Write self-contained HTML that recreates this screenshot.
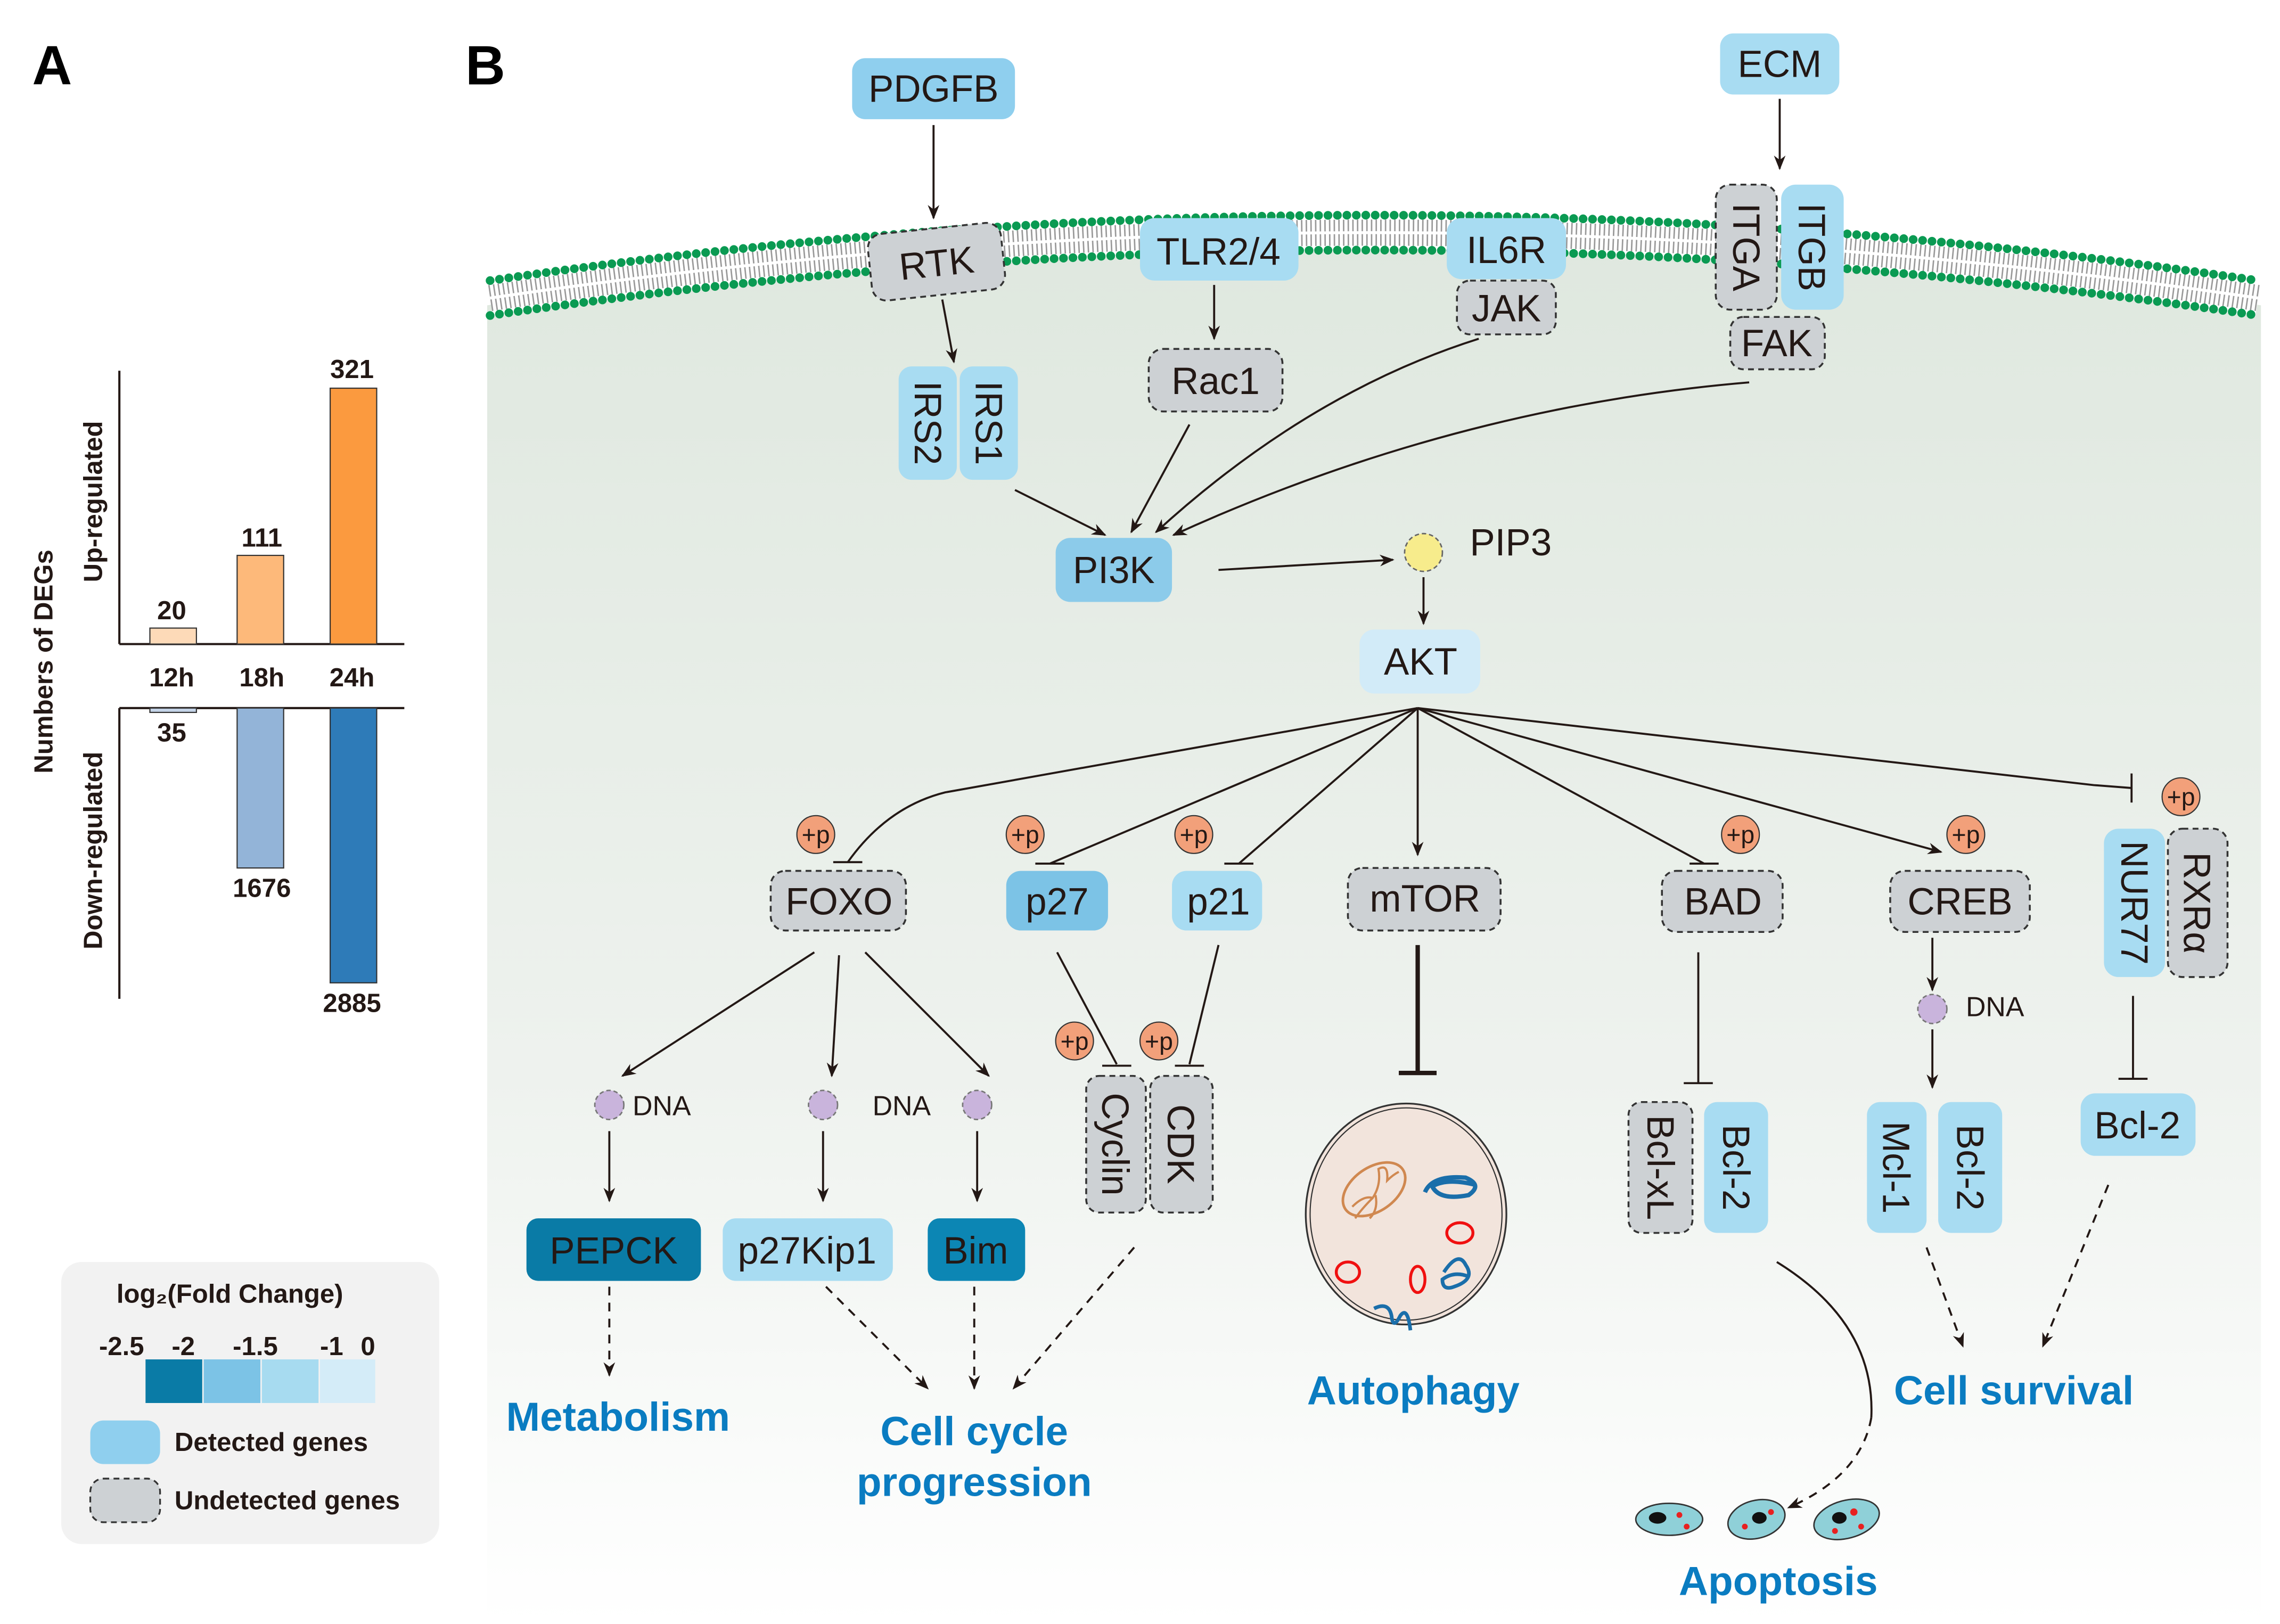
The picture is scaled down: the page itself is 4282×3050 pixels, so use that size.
<!DOCTYPE html>
<html><head><meta charset="utf-8"><style>
html,body{margin:0;padding:0;background:#fff}
svg{display:block}
text{font-family:"Liberation Sans",Arial,sans-serif}
</style></head><body>
<svg width="4282" height="3050" viewBox="0 0 1568 1117" xmlns="http://www.w3.org/2000/svg">
<defs>
<linearGradient id="cell" x1="0" y1="0" x2="0" y2="1">
<stop offset="0" stop-color="#dfe8df"/><stop offset="0.6" stop-color="#eef2ee"/><stop offset="1" stop-color="#ffffff"/>
</linearGradient>
<marker id="ar" markerWidth="10" markerHeight="10" refX="9" refY="5" orient="auto" markerUnits="userSpaceOnUse"><path d="M0,1 L10,5 L0,9 L3,5 Z" fill="#231815"/></marker>
</defs>
<path d="M335,210 Q945,120 1555,210 L1555,1117 L335,1117 Z" fill="url(#cell)"/>
<path d="M337,205 Q945,115 1553,205" fill="none" stroke="#fff" stroke-width="26"/>
<path d="M337,205 Q945,115 1553,205" fill="none" stroke="#999" stroke-width="18" stroke-dasharray="1 2.2"/>
<path d="M337,205 Q945,115 1553,205" fill="none" stroke="#fff" stroke-width="2"/>
<path d="M337,193 Q945,103 1553,193" fill="none" stroke="#0a9a52" stroke-width="6" stroke-linecap="round" stroke-dasharray="0 6.5"/>
<path d="M337,217 Q945,127 1553,217" fill="none" stroke="#0a9a52" stroke-width="6" stroke-linecap="round" stroke-dasharray="0 6.5"/>

<g fill="none" stroke="#231815" stroke-width="1.4">
<line x1="642" y1="86" x2="642" y2="150" marker-end="url(#ar)"/>
<line x1="1224" y1="68" x2="1224" y2="116" marker-end="url(#ar)"/>
<line x1="648" y1="206" x2="656" y2="249" marker-end="url(#ar)"/>
<line x1="835" y1="196" x2="835" y2="233" marker-end="url(#ar)"/>
<line x1="818" y1="292" x2="778" y2="366" marker-end="url(#ar)"/>
<path d="M1017,233 Q900,270 795,366" marker-end="url(#ar)"/>
<path d="M1203,263 Q1000,280 807,368" marker-end="url(#ar)"/>
<line x1="698" y1="337" x2="760" y2="368" marker-end="url(#ar)"/>
<line x1="838" y1="392" x2="958" y2="385" marker-end="url(#ar)"/>
<line x1="979" y1="397" x2="979" y2="429" marker-end="url(#ar)"/>
<path d="M975,487 L650,545 Q610,555 583,593"/><line x1="573" y1="593" x2="593" y2="593"/>
<line x1="975" y1="487" x2="722" y2="594"/><line x1="712" y1="594" x2="732" y2="594"/>
<line x1="975" y1="487" x2="852" y2="594"/><line x1="842" y1="594" x2="862" y2="594"/>
<line x1="975" y1="487" x2="975" y2="588" marker-end="url(#ar)"/>
<line x1="975" y1="487" x2="1172" y2="594"/><line x1="1162" y1="594" x2="1182" y2="594"/>
<line x1="975" y1="487" x2="1335" y2="586" marker-end="url(#ar)"/>
<path d="M975,487 L1440,540 L1466,542"/><line x1="1466" y1="532" x2="1466" y2="552"/>
<line x1="560" y1="655" x2="428" y2="740" marker-end="url(#ar)"/>
<line x1="577" y1="657" x2="572" y2="740" marker-end="url(#ar)"/>
<line x1="595" y1="655" x2="680" y2="740" marker-end="url(#ar)"/>
<line x1="419" y1="778" x2="419" y2="826" marker-end="url(#ar)"/>
<line x1="566" y1="778" x2="566" y2="826" marker-end="url(#ar)"/>
<line x1="672" y1="778" x2="672" y2="826" marker-end="url(#ar)"/>
<line x1="727" y1="655" x2="768" y2="732"/><line x1="758" y1="733" x2="778" y2="733"/>
<line x1="838" y1="650" x2="818" y2="732"/><line x1="808" y1="733" x2="828" y2="733"/>
<line x1="1168" y1="655" x2="1168" y2="745"/><line x1="1158" y1="745" x2="1178" y2="745"/>
<line x1="1329" y1="645" x2="1329" y2="681" marker-end="url(#ar)"/>
<line x1="1329" y1="708" x2="1329" y2="748" marker-end="url(#ar)"/>
<line x1="1467" y1="685" x2="1467" y2="742"/><line x1="1457" y1="742" x2="1477" y2="742"/>
<path d="M1222,868 Q1290,910 1287,975"/>
</g>
<g fill="none" stroke="#231815" stroke-width="1.4" stroke-dasharray="6 5">
<line x1="419" y1="885" x2="419" y2="946" marker-end="url(#ar)"/>
<line x1="568" y1="885" x2="638" y2="955" marker-end="url(#ar)"/>
<line x1="670" y1="885" x2="670" y2="955" marker-end="url(#ar)"/>
<line x1="780" y1="858" x2="697" y2="955" marker-end="url(#ar)"/>
<path d="M1287,975 Q1280,1015 1230,1037" marker-end="url(#ar)"/>
<line x1="1325" y1="858" x2="1350" y2="926" marker-end="url(#ar)"/>
<line x1="1450" y1="815" x2="1405" y2="926" marker-end="url(#ar)"/>
</g>
<line x1="975" y1="650" x2="975" y2="738" stroke="#231815" stroke-width="3"/>
<line x1="962" y1="738" x2="988" y2="738" stroke="#231815" stroke-width="3"/>

<g font-size="26" fill="#231815" text-anchor="middle">
<rect x="586" y="40" width="112" height="42" rx="9" fill="#8fcfee"/><text x="642" y="70">PDGFB</text>
<rect x="1183" y="23" width="82" height="42" rx="9" fill="#a8dcf2"/><text x="1224" y="53">ECM</text>
<g transform="rotate(-6 644 180)"><rect x="598" y="157" width="92" height="46" rx="10" fill="#cdd1d4" stroke="#333" stroke-dasharray="4 3" stroke-width="1.3"/><text x="644" y="190">RTK</text></g>
<rect x="784" y="150" width="109" height="43" rx="10" fill="#a8dcf2"/><text x="838" y="182">TLR2/4</text>
<rect x="995" y="150" width="82" height="42" rx="10" fill="#a8dcf2"/><text x="1036" y="181">IL6R</text>
<rect x="1002" y="193" width="68" height="37" rx="9" fill="#cdd1d4" stroke="#333" stroke-dasharray="4 3" stroke-width="1.3"/><text x="1036" y="221">JAK</text>
<rect x="1180" y="127" width="42" height="86" rx="10" fill="#cdd1d4" stroke="#333" stroke-dasharray="4 3" stroke-width="1.3"/><text transform="translate(1201 170) rotate(90)" y="9">ITGA</text>
<rect x="1225" y="127" width="43" height="86" rx="10" fill="#a8dcf2"/><text transform="translate(1246 170) rotate(90)" y="9">ITGB</text>
<rect x="1190" y="218" width="65" height="36" rx="9" fill="#cdd1d4" stroke="#333" stroke-dasharray="4 3" stroke-width="1.3"/><text x="1222" y="245">FAK</text>
<rect x="790" y="240" width="92" height="43" rx="10" fill="#cdd1d4" stroke="#333" stroke-dasharray="4 3" stroke-width="1.3"/><text x="836" y="271">Rac1</text>
<rect x="618" y="252" width="40" height="78" rx="9" fill="#a8dcf2"/><text transform="translate(638 291) rotate(90)" y="9">IRS2</text>
<rect x="660" y="252" width="40" height="78" rx="9" fill="#a8dcf2"/><text transform="translate(680 291) rotate(90)" y="9">IRS1</text>
<rect x="726" y="370" width="80" height="44" rx="10" fill="#8ccbea"/><text x="766" y="401">PI3K</text>
<circle cx="979" cy="380" r="13" fill="#f7ec8c" stroke="#666" stroke-dasharray="3 2"/>
<text x="1039" y="382" text-anchor="middle">PIP3</text>
<rect x="935" y="433" width="83" height="44" rx="10" fill="#d2ebf8"/><text x="977" y="464">AKT</text>
<rect x="530" y="599" width="93" height="41" rx="10" fill="#cdd1d4" stroke="#333" stroke-dasharray="4 3" stroke-width="1.3"/><text x="577" y="629">FOXO</text>
<rect x="692" y="599" width="70" height="41" rx="10" fill="#7cc3e6"/><text x="727" y="629">p27</text>
<rect x="806" y="599" width="62" height="41" rx="10" fill="#a8dcf2"/><text x="838" y="629">p21</text>
<rect x="927" y="597" width="105" height="43" rx="10" fill="#cdd1d4" stroke="#333" stroke-dasharray="4 3" stroke-width="1.3"/><text x="980" y="627">mTOR</text>
<rect x="1143" y="599" width="83" height="42" rx="10" fill="#cdd1d4" stroke="#333" stroke-dasharray="4 3" stroke-width="1.3"/><text x="1185" y="629">BAD</text>
<rect x="1300" y="599" width="96" height="42" rx="10" fill="#cdd1d4" stroke="#333" stroke-dasharray="4 3" stroke-width="1.3"/><text x="1348" y="629">CREB</text>
<rect x="1447" y="570" width="42" height="102" rx="10" fill="#a8dcf2"/><text transform="translate(1468 621) rotate(90)" y="9">NUR77</text>
<rect x="1491" y="570" width="41" height="102" rx="10" fill="#cdd1d4" stroke="#333" stroke-dasharray="4 3" stroke-width="1.3"/><text transform="translate(1511 621) rotate(90)" y="9">RXRα</text>
<rect x="362" y="838" width="120" height="43" rx="8" fill="#0a7ba6"/><text x="422" y="869">PEPCK</text>
<rect x="497" y="838" width="117" height="43" rx="9" fill="#a8dcf2"/><text x="555" y="869">p27Kip1</text>
<rect x="638" y="838" width="67" height="43" rx="8" fill="#0c86b4"/><text x="671" y="869">Bim</text>
<rect x="747" y="740" width="41" height="94" rx="9" fill="#cdd1d4" stroke="#333" stroke-dasharray="4 3" stroke-width="1.3"/><text transform="translate(767 787) rotate(90)" y="9">Cyclin</text>
<rect x="791" y="740" width="43" height="94" rx="9" fill="#cdd1d4" stroke="#333" stroke-dasharray="4 3" stroke-width="1.3"/><text transform="translate(812 787) rotate(90)" y="9">CDK</text>
<rect x="1120" y="758" width="44" height="90" rx="9" fill="#cdd1d4" stroke="#333" stroke-dasharray="4 3" stroke-width="1.3"/><text transform="translate(1142 803) rotate(90)" y="9">Bcl-xL</text>
<rect x="1172" y="758" width="44" height="90" rx="9" fill="#a8dcf2"/><text transform="translate(1194 803) rotate(90)" y="9">Bcl-2</text>
<rect x="1284" y="758" width="41" height="90" rx="9" fill="#a8dcf2"/><text transform="translate(1304 803) rotate(90)" y="9">Mcl-1</text>
<rect x="1333" y="758" width="44" height="90" rx="9" fill="#a8dcf2"/><text transform="translate(1355 803) rotate(90)" y="9">Bcl-2</text>
<rect x="1431" y="752" width="79" height="43" rx="10" fill="#a8dcf2"/><text x="1470" y="783">Bcl-2</text>
</g>
<g font-size="17" fill="#231815" text-anchor="middle">
<g fill="#f2a07a" stroke="#333" stroke-width="0.8">
<circle cx="561" cy="574" r="13"/><circle cx="705" cy="574" r="13"/><circle cx="821" cy="574" r="13"/>
<circle cx="1197" cy="574" r="13"/><circle cx="1352" cy="574" r="13"/><circle cx="1500" cy="548" r="13"/>
<circle cx="739" cy="716" r="13"/><circle cx="797" cy="716" r="13"/>
</g>
<text x="561" y="580">+p</text><text x="705" y="580">+p</text><text x="821" y="580">+p</text>
<text x="1197" y="580">+p</text><text x="1352" y="580">+p</text><text x="1500" y="554">+p</text>
<text x="739" y="722">+p</text><text x="797" y="722">+p</text>
</g>
<g fill="#c9b4dc" stroke="#777" stroke-dasharray="3 2" stroke-width="1">
<circle cx="419" cy="760" r="10"/><circle cx="566" cy="760" r="10"/><circle cx="672" cy="760" r="10"/><circle cx="1329" cy="694" r="10"/>
</g>
<g font-size="19" fill="#231815"><text x="435" y="767">DNA</text><text x="600" y="767">DNA</text><text x="1352" y="699">DNA</text></g>

<!-- autophagy cell -->
<ellipse cx="967" cy="835" rx="69" ry="76" fill="#f2e4dc" stroke="#333" stroke-width="1.2"/>
<ellipse cx="967" cy="835" rx="66" ry="73" fill="none" stroke="#333" stroke-width="0.8"/>
<ellipse cx="945" cy="818" rx="24" ry="15" transform="rotate(-35 945 818)" fill="none" stroke="#d08850" stroke-width="1.8"/>
<path d="M930,830 Q938,822 944,824 Q950,815 948,804 Q955,800 954,812 Q958,808 962,806 M944,824 Q936,832 932,838 M946,822 Q948,832 942,838" fill="none" stroke="#d08850" stroke-width="1.5"/>
<path d="M980,820 Q985,808 1008,810 Q1020,815 1010,822 Q990,826 985,816 Q995,810 1015,815" fill="none" stroke="#1a6eaa" stroke-width="3"/>
<ellipse cx="1004" cy="848" rx="9" ry="7" fill="none" stroke="#f01010" stroke-width="2"/>
<ellipse cx="927" cy="875" rx="8" ry="7" fill="none" stroke="#f01010" stroke-width="2"/>
<ellipse cx="975" cy="880" rx="5" ry="9" fill="none" stroke="#f01010" stroke-width="2"/>
<path d="M993,875 Q1003,860 1008,870 Q1015,880 1000,885 Q992,888 992,880 Q1000,874 1010,878" fill="none" stroke="#1a6eaa" stroke-width="2.5"/>
<path d="M945,900 Q955,895 957,905 Q958,915 963,905 Q968,898 970,915" fill="none" stroke="#1a6eaa" stroke-width="2.5"/>

<g stroke="#333" stroke-width="1" fill="#8fd0d8">
<ellipse cx="1148" cy="1045" rx="23" ry="11"/><ellipse cx="1208" cy="1045" rx="20" ry="13" transform="rotate(-15 1208 1045)"/><ellipse cx="1270" cy="1045" rx="23" ry="13" transform="rotate(-15 1270 1045)"/>
</g>
<g fill="#111"><ellipse cx="1140" cy="1044" rx="6" ry="4"/><ellipse cx="1210" cy="1044" rx="5" ry="4"/><ellipse cx="1265" cy="1044" rx="5" ry="4"/></g>
<g fill="#e82020"><circle cx="1155" cy="1042" r="2"/><circle cx="1160" cy="1050" r="2"/><circle cx="1200" cy="1050" r="2"/><circle cx="1218" cy="1040" r="2"/><circle cx="1275" cy="1040" r="2.5"/><circle cx="1280" cy="1050" r="2"/><circle cx="1262" cy="1053" r="2"/></g>

<g font-size="28" font-weight="bold" fill="#0a7cc1" text-anchor="middle">
<text x="425" y="984">Metabolism</text>
<text x="670" y="994">Cell cycle</text><text x="670" y="1029">progression</text>
<text x="972" y="966">Autophagy</text>
<text x="1385" y="966">Cell survival</text>
<text x="1223" y="1097">Apoptosis</text>
</g>

<text x="22" y="58" font-size="38" font-weight="bold">A</text>
<text x="320" y="58" font-size="38" font-weight="bold">B</text>

<g stroke="#231815" stroke-width="1.5">
<line x1="82" y1="255" x2="82" y2="443"/><line x1="82" y1="443" x2="278" y2="443"/>
<line x1="82" y1="487" x2="82" y2="687"/><line x1="82" y1="487" x2="278" y2="487"/>
</g>
<g stroke="#333" stroke-width="0.8">
<rect x="103" y="432" width="32" height="11" fill="#fddab8"/>
<rect x="163" y="382" width="32" height="61" fill="#fdb97a"/>
<rect x="227" y="267" width="32" height="176" fill="#fb9a3f"/>
<rect x="103" y="487" width="32" height="3" fill="#c5d4e8"/>
<rect x="163" y="487" width="32" height="110" fill="#93b4d8"/>
<rect x="227" y="487" width="32" height="189" fill="#2e7bb8"/>
</g>
<g font-size="18" font-weight="bold" text-anchor="middle" fill="#231815">
<text x="118" y="426">20</text><text x="180" y="376">111</text><text x="242" y="260">321</text>
<text x="118" y="472">12h</text><text x="180" y="472">18h</text><text x="242" y="472">24h</text>
<text x="118" y="510">35</text><text x="180" y="617">1676</text><text x="242" y="696">2885</text>
<text transform="translate(70 345) rotate(-90)">Up-regulated</text>
<text transform="translate(70 585) rotate(-90)">Down-regulated</text>
<text transform="translate(36 455) rotate(-90)">Numbers of DEGs</text>
</g>

<rect x="42" y="868" width="260" height="194" rx="14" fill="#f2f2f2"/>
<g font-size="18" font-weight="bold" fill="#231815">
<text x="158" y="896" text-anchor="middle">log₂(Fold Change)</text>
<text x="68" y="932">-2.5</text><text x="118" y="932">-2</text><text x="160" y="932">-1.5</text><text x="220" y="932">-1</text><text x="248" y="932">0</text>
<text x="120" y="998">Detected genes</text>
<text x="120" y="1038">Undetected genes</text>
</g>
<rect x="100" y="935" width="39" height="30" fill="#0a7ba6"/>
<rect x="140" y="935" width="39" height="30" fill="#7cc3e6"/>
<rect x="180" y="935" width="39" height="30" fill="#a7dbf0"/>
<rect x="220" y="935" width="38" height="30" fill="#d4ecf8"/>
<rect x="62" y="977" width="48" height="30" rx="9" fill="#8fcfee"/>
<rect x="62" y="1017" width="48" height="30" rx="9" fill="#cdd1d4" stroke="#333" stroke-dasharray="4 3" stroke-width="1.2"/>
</svg>
</body></html>
